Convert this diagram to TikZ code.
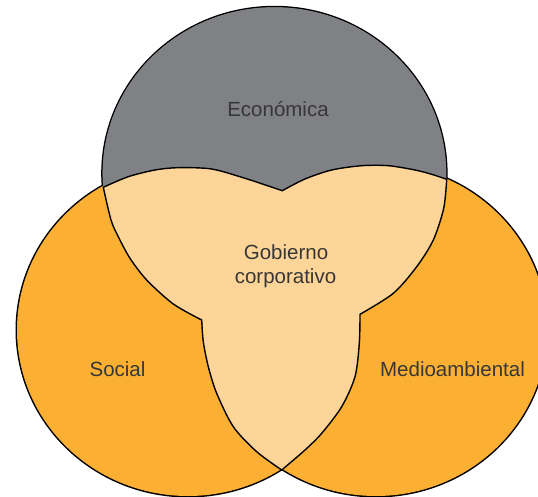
\documentclass[tikz,border=0pt]{standalone}
\usepackage{fontspec}
\setmainfont{Liberation Sans}
\definecolor{topgray}{RGB}{128,129,133}
\definecolor{orangefill}{RGB}{251,176,52}
\definecolor{peachfill}{RGB}{254,213,152}
\definecolor{labeltext}{RGB}{55,55,55}
\begin{document}
\begin{tikzpicture}[x=1pt,y=-1pt,
  lbl/.style={text=labeltext,font=\fontsize{20.5}{24}\selectfont,inner sep=0pt,anchor=base},
  outer/.style={draw=black,line width=3pt},
  inner/.style={draw=black,line width=1.4pt}]
\useasboundingbox (0,0) rectangle (538,497);
\clip (0,0) rectangle (538,497);
\coordinate (ctop) at (274.4,173.3);
\coordinate (cleft) at (188,330);
\coordinate (cright) at (376,330);
% outer outline (inner half gets covered by the fills)
\path[outer] (ctop) ellipse [x radius=171.7pt, y radius=166pt];
\path[outer] (cleft) ellipse [x radius=171pt, y radius=166pt];
\path[outer] (cright) ellipse [x radius=171pt, y radius=166pt];
% fills
\fill[topgray] (ctop) ellipse [x radius=171.7pt, y radius=166pt];
\fill[orangefill] (cleft) ellipse [x radius=171pt, y radius=166pt];
\fill[orangefill] (cright) ellipse [x radius=171pt, y radius=166pt];
\begin{scope}
\clip (0,187.3) -- (103.3,187.3)
  -- plot[smooth] coordinates {(103.3,187.3) (128.3,176.7) (155,170) (178.3,167.7) (211.7,169) (245,178.3) (268.3,186) (282.3,190.7)}
  -- plot[smooth] coordinates {(282.3,190.7) (305,179) (331.7,170) (361.7,165.7) (388.3,165.7) (415,170) (431.7,174.3) (446.7,179.3)}
  -- (538,179.3) -- (538,0) -- (0,0) -- cycle;
\fill[topgray] (ctop) ellipse [x radius=171.7pt, y radius=166pt];
\end{scope}
% common region
\path[inner,fill=peachfill] (103.3,187.3)
  -- plot[smooth] coordinates {(103.3,187.3) (128.3,176.7) (155,170) (178.3,167.7) (211.7,169) (245,178.3) (268.3,186) (282.3,190.7)}
  -- plot[smooth] coordinates {(282.3,190.7) (305,179) (331.7,170) (361.7,165.7) (388.3,165.7) (415,170) (431.7,174.3) (446.7,179.3)}
  -- plot[smooth] coordinates {(446.7,179.3) (443.7,208.3) (433.3,240) (416.7,266.7) (393.3,293.3) (360,314.3)}
  -- plot[smooth] coordinates {(360,314.3) (359.3,343.3) (355,376.7) (341.7,406.7) (321.7,433.3) (305,450) (281.7,470)}
  -- plot[smooth] coordinates {(281.7,470) (256.7,451.7) (233.3,426.7) (216.7,393.3) (208.3,366.7) (203.3,341.7) (201.7,320)}
  -- plot[smooth] coordinates {(201.7,320) (173.3,304) (146.7,280) (130,258.3) (118.3,236.7) (111,220) (103.3,187.3)}
  -- cycle;
% labels
\node[lbl] (econ) at (278,116.5) {Económica};
\node[lbl] (gob) at (286,259.5) {Gobierno};
\node[lbl] (corp) at (285.5,283.5) {corporativo};
\node[lbl] (soc) at (117.5,376.5) {Social};
\node[lbl] (medio) at (452.5,376) {Medioambiental};
\end{tikzpicture}
\end{document}
